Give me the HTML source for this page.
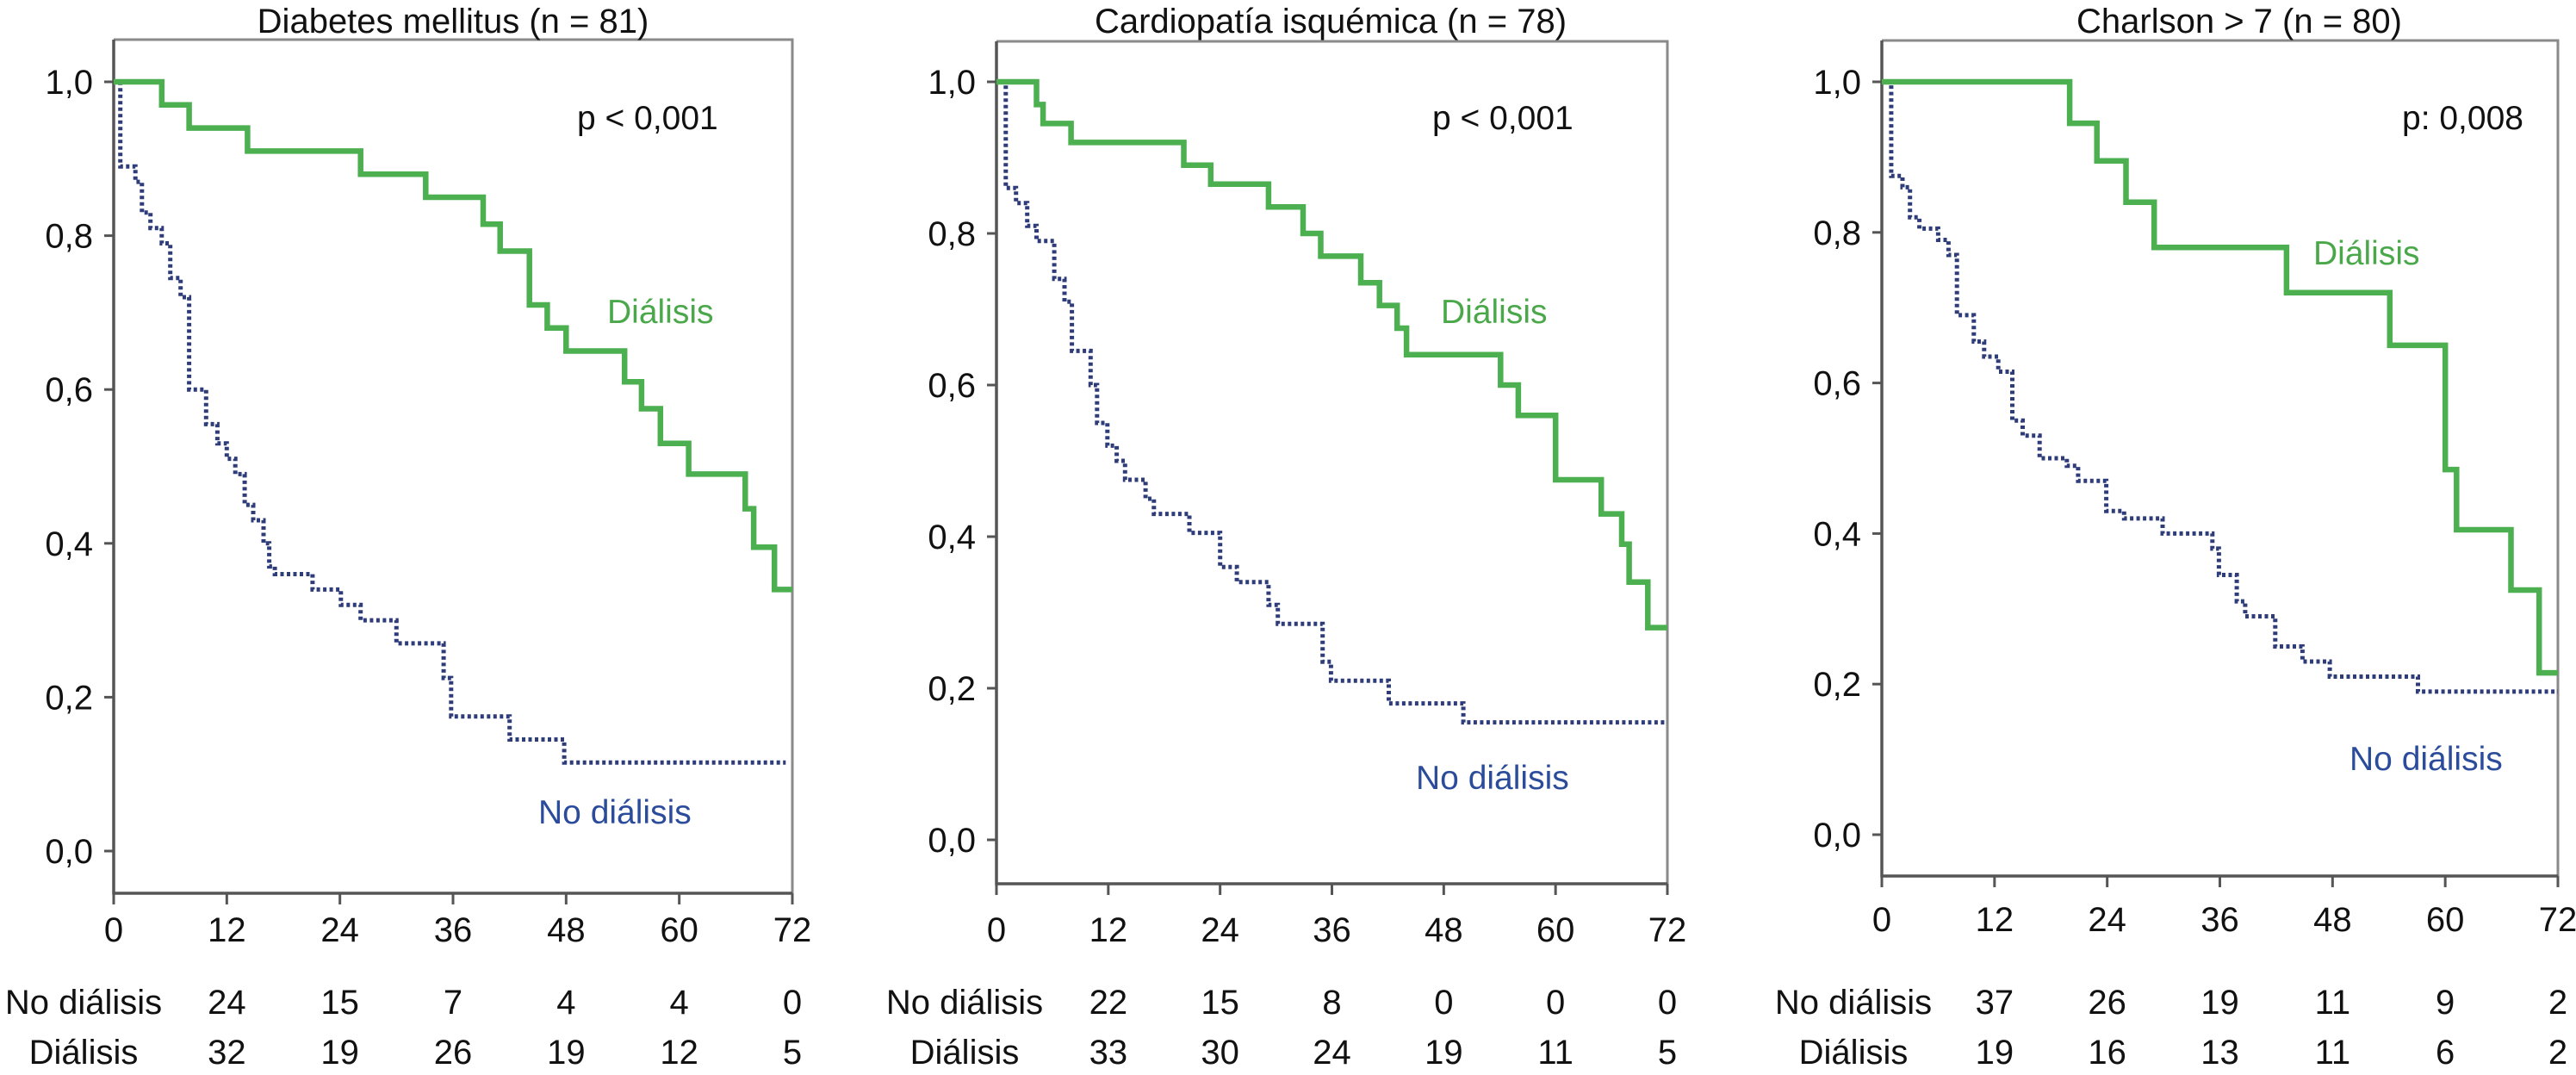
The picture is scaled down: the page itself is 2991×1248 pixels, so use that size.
<!DOCTYPE html>
<html><head><meta charset="utf-8">
<style>
html,body{margin:0;padding:0;background:#fff;}
svg{display:block;font-family:"Liberation Sans",Arial,sans-serif;}
</style></head>
<body>
<svg id="chart" width="2991" height="1248" viewBox="0 0 2991 1248" xmlns="http://www.w3.org/2000/svg"></svg>
<script>
// ---- data ----
const xTicks = [0, 12, 24, 36, 48, 60, 72];
const yTicks = [0, 0.2, 0.4, 0.6, 0.8, 1.0];
const yTickLabels = ["0,0", "0,2", "0,4", "0,6", "0,8", "1,0"];
const titles = ["Diabetes mellitus (n = 81)", "Cardiopatía isquémica (n = 78)", "Charlson > 7 (n = 80)"];
const pValues = ["p < 0,001", "p < 0,001", "p: 0,008"];

const dm_dial_t = [0, 5.1, 8, 14.2, 26.2, 33.1, 39.2, 41, 44.1, 46, 48, 54.2, 56, 58, 61, 67, 67.9, 70.1, 72];
const dm_dial_s = [1.0, 0.97, 0.94, 0.91, 0.88, 0.85, 0.815, 0.78, 0.71, 0.68, 0.65, 0.61, 0.575, 0.53, 0.49, 0.445, 0.395, 0.34, 0.34];
const dm_nod_t = [0, 0.7, 2.3, 3, 3.9, 5.1, 6, 7.1, 8, 9.8, 11, 12, 12.9, 13.9, 14.8, 15.9, 16.5, 17.1, 21.1, 24.1, 26.2, 30, 35, 35.8, 42, 47.8, 71.3];
const dm_nod_s = [1.0, 0.89, 0.87, 0.83, 0.81, 0.79, 0.745, 0.72, 0.60, 0.555, 0.53, 0.51, 0.49, 0.45, 0.43, 0.40, 0.37, 0.36, 0.34, 0.32, 0.30, 0.27, 0.225, 0.175, 0.145, 0.115, 0.115];

const ci_dial_t = [0, 4.3, 5, 8, 20.1, 23, 29.2, 32.9, 34.8, 39.1, 41.1, 43, 44, 54.1, 56, 60, 64.9, 67.1, 67.9, 69.9, 72];
const ci_dial_s = [1.0, 0.97, 0.945, 0.92, 0.89, 0.865, 0.835, 0.80, 0.77, 0.735, 0.705, 0.675, 0.64, 0.60, 0.56, 0.475, 0.43, 0.39, 0.34, 0.28, 0.28];
const ci_nod_t = [0, 1, 2.1, 3.3, 4.3, 6.2, 7.3, 8.1, 10.1, 10.8, 11.9, 12.9, 13.8, 16, 16.9, 20.7, 24, 25.8, 29.2, 30.2, 35, 35.9, 42.1, 50.1, 72];
const ci_nod_s = [1.0, 0.86, 0.84, 0.81, 0.79, 0.74, 0.71, 0.645, 0.60, 0.55, 0.52, 0.50, 0.475, 0.45, 0.43, 0.405, 0.36, 0.34, 0.31, 0.285, 0.235, 0.21, 0.18, 0.155, 0.155];

const ch_dial_t = [0, 20, 22.9, 26, 29, 43.1, 54.1, 60, 61.2, 67, 70, 72];
const ch_dial_s = [1.0, 0.945, 0.895, 0.84, 0.78, 0.72, 0.65, 0.485, 0.405, 0.325, 0.215, 0.215];
const ch_nod_t = [0, 1, 2.2, 3, 4, 6, 7.1, 8, 9.8, 10.9, 12.4, 13.9, 15, 16.8, 19.7, 20.9, 23.9, 25.8, 29.9, 35.2, 35.9, 37.8, 38.7, 41.9, 44.8, 47.7, 57.1, 72];
const ch_nod_s = [1.0, 0.875, 0.86, 0.82, 0.805, 0.79, 0.77, 0.69, 0.655, 0.635, 0.615, 0.55, 0.53, 0.50, 0.49, 0.47, 0.43, 0.42, 0.40, 0.38, 0.345, 0.31, 0.29, 0.25, 0.23, 0.21, 0.19, 0.19];

const risk_nod = [[24, 15, 7, 4, 4, 0], [22, 15, 8, 0, 0, 0], [37, 26, 19, 11, 9, 2]];
const risk_dial = [[32, 19, 26, 19, 12, 5], [33, 30, 24, 19, 11, 5], [19, 16, 13, 11, 6, 2]];
const riskTimes = [12, 24, 36, 48, 60, 72];

// ---- layout ----
const panels = [
  {x0:132, x1:920, yOne:95, yZero:988, base:1037, top:46, tickY:1078, rowCx:97, r1:1163, r2:1221,
   p:[670,150], dl:[705,375], nl:[625,956], dial:[dm_dial_t, dm_dial_s], nod:[dm_nod_t, dm_nod_s], tcx:526},
  {x0:1157, x1:1936, yOne:95, yZero:975, base:1026, top:48, tickY:1078, rowCx:1120, r1:1163, r2:1221,
   p:[1663,150], dl:[1673,375], nl:[1644,916], dial:[ci_dial_t, ci_dial_s], nod:[ci_nod_t, ci_nod_s], tcx:1545},
  {x0:2185, x1:2970, yOne:95, yZero:969, base:1017, top:47, tickY:1066, rowCx:2152, r1:1163, r2:1221,
   p:[2789,150], dl:[2686,307], nl:[2728,894], dial:[ch_dial_t, ch_dial_s], nod:[ch_nod_t, ch_nod_s], tcx:2600}
];
const NS = "http://www.w3.org/2000/svg";
const svg = document.getElementById('chart');
function mk(tag, attrs, parent){
  const e = document.createElementNS(NS, tag);
  for (const k in attrs) e.setAttribute(k, attrs[k]);
  (parent||svg).appendChild(e); return e;
}
function txt(s, x, y, size, anchor, fill, parent){
  const t = mk('text', {x:x, y:y, 'font-size':size, 'text-anchor':anchor, fill:fill}, parent);
  t.textContent = s; return t;
}
function stepPath(ts, ss, X, Y){
  let d = 'M' + X(ts[0]) + ',' + Y(ss[0]);
  for (let i = 1; i < ts.length; i++){
    d += ' H' + X(ts[i]).toFixed(1) + ' V' + Y(ss[i]).toFixed(1);
  }
  return d;
}
panels.forEach((P, pi) => {
  const g = mk('g', {});
  
  
  const X = t => P.x0 + (t/72) * (P.x1 - P.x0);
  const Y = s => P.yZero + s * (P.yOne - P.yZero);
  // frame
  const fr = mk('path', {d:`M${P.x0},${P.top} H${P.x1} V${P.base}`, fill:'none', stroke:'#8a8a8a', 'stroke-width':3}, g);
  
  
  const ax = mk('path', {d:`M${P.x0},${P.top} V${P.base} H${P.x1}`, fill:'none', stroke:'#555', 'stroke-width':3.5}, g);
  
  
  // title
  const tt = txt(titles[pi], P.tcx, 38, 40, 'middle', '#111', g);
  
  
  // y ticks
  yTicks.forEach((v, i) => {
    mk('line', {x1:P.x0-11, x2:P.x0, y1:Y(v), y2:Y(v), stroke:'#555', 'stroke-width':3}, g);
    const l = txt(yTickLabels[i], P.x0-24, Y(v)+14, 40, 'end', '#111', g);
    
    
  });
  // x ticks
  xTicks.forEach(v => {
    mk('line', {x1:X(v), x2:X(v), y1:P.base, y2:P.base+13, stroke:'#555', 'stroke-width':3}, g);
    const l = txt(String(v), X(v), P.tickY+15, 40, 'middle', '#111', g);
    
    
  });
  // curves
  const nod = mk('path', {d:stepPath(P.nod[0], P.nod[1], X, Y), fill:'none', stroke:'#2e3d7a', 'stroke-width':5, 'stroke-dasharray':'4 3.5'}, g);
  
  
  const dia = mk('path', {d:stepPath(P.dial[0], P.dial[1], X, Y), fill:'none', stroke:'#4caf50', 'stroke-width':6.5}, g);
  
  
  // labels
  const pv = txt(pValues[pi], P.p[0], P.p[1], 39, 'start', '#111', g);
  
  
  const dl = txt('Diálisis', P.dl[0], P.dl[1], 39, 'start', '#4aa84a', g);
  
  
  const nl = txt('No diálisis', P.nl[0], P.nl[1], 39, 'start', '#2b4b9b', g);
  
  
  // risk table
  const rl1 = txt('No diálisis', P.rowCx, P.r1+14, 40, 'middle', '#111', g);
  
  
  const rl2 = txt('Diálisis', P.rowCx, P.r2+14, 40, 'middle', '#111', g);
  
  
  riskTimes.forEach((t, i) => {
    const a = txt(String(risk_nod[pi][i]), X(t), P.r1+14, 40, 'middle', '#111', g);
    
    
    const b = txt(String(risk_dial[pi][i]), X(t), P.r2+14, 40, 'middle', '#111', g);
    
    
  });
});
</script>
</body></html>
